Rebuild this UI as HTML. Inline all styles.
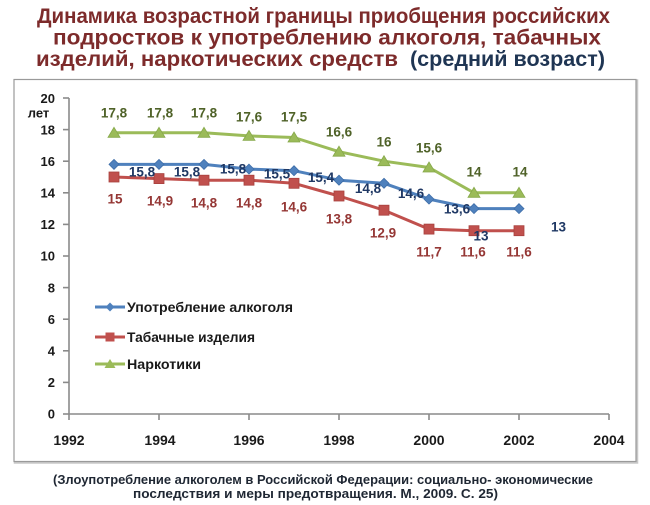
<!DOCTYPE html>
<html><head><meta charset="utf-8"><style>
html,body{margin:0;padding:0;background:#fff;}
svg{display:block;}
text{font-family:"Liberation Sans","DejaVu Sans",sans-serif;font-weight:bold;}
</style></head><body>
<svg width="650" height="505" viewBox="0 0 650 505" xmlns="http://www.w3.org/2000/svg">
<rect width="650" height="505" fill="#fff"/>
<!-- Title -->
<text x="37" y="23" font-size="21" fill="#7d2b2b" textLength="573" lengthAdjust="spacingAndGlyphs">Динамика  возрастной  границы  приобщения  российских</text>
<text x="53" y="44.5" font-size="21" fill="#7d2b2b" textLength="548" lengthAdjust="spacingAndGlyphs">подростков   к  употреблению  алкоголя,  табачных</text>
<text x="36" y="66" font-size="21" fill="#7d2b2b" textLength="362" lengthAdjust="spacingAndGlyphs">изделий,  наркотических  средств</text>
<text x="410" y="66" font-size="21" fill="#1f3553" textLength="195" lengthAdjust="spacingAndGlyphs">(средний  возраст)</text>

<!-- Frame -->
<rect x="15" y="80.5" width="622" height="382" fill="#fff" stroke="#c8c8c8" stroke-width="2.5"/>
<rect x="14" y="79.5" width="622" height="382" fill="#fff" stroke="#9a9a9a" stroke-width="1.2"/>

<!-- Axes -->
<g stroke="#8a8a8a" stroke-width="1.6" fill="none">
<line x1="69" y1="98" x2="69" y2="414"/>
<line x1="69" y1="414" x2="609" y2="414"/>
<line x1="63" y1="98" x2="69" y2="98"/>
<line x1="63" y1="129.6" x2="69" y2="129.6"/>
<line x1="63" y1="161.2" x2="69" y2="161.2"/>
<line x1="63" y1="192.8" x2="69" y2="192.8"/>
<line x1="63" y1="224.4" x2="69" y2="224.4"/>
<line x1="63" y1="256" x2="69" y2="256"/>
<line x1="63" y1="287.6" x2="69" y2="287.6"/>
<line x1="63" y1="319.2" x2="69" y2="319.2"/>
<line x1="63" y1="350.8" x2="69" y2="350.8"/>
<line x1="63" y1="382.4" x2="69" y2="382.4"/>
<line x1="63" y1="414" x2="69" y2="414"/>
<line x1="69" y1="414" x2="69" y2="420"/>
<line x1="159" y1="414" x2="159" y2="420"/>
<line x1="249" y1="414" x2="249" y2="420"/>
<line x1="339" y1="414" x2="339" y2="420"/>
<line x1="429" y1="414" x2="429" y2="420"/>
<line x1="519" y1="414" x2="519" y2="420"/>
<line x1="609" y1="414" x2="609" y2="420"/>
</g>

<!-- Y labels -->
<g font-size="13" fill="#1a1a1a" text-anchor="end">
<text x="55" y="103">20</text>
<text x="55" y="134.5">18</text>
<text x="55" y="166">16</text>
<text x="55" y="197.5">14</text>
<text x="55" y="229">12</text>
<text x="55" y="260.7">10</text>
<text x="55" y="292.3">8</text>
<text x="55" y="324">6</text>
<text x="55" y="355.5">4</text>
<text x="55" y="387">2</text>
<text x="55" y="418.7">0</text>
</g>
<text x="38.5" y="117.5" font-size="13" fill="#1a1a1a" text-anchor="middle">лет</text>

<!-- X labels -->
<g font-size="14" fill="#1a1a1a" text-anchor="middle">
<text x="69" y="445">1992</text>
<text x="160" y="445">1994</text>
<text x="249" y="445">1996</text>
<text x="339" y="445">1998</text>
<text x="429" y="445">2000</text>
<text x="519" y="445">2002</text>
<text x="609" y="445">2004</text>
</g>

<!-- Series lines -->
<polyline fill="none" stroke="#9bbb59" stroke-width="3" stroke-linejoin="round" points="114,132.8 159,132.8 204,132.8 249,135.9 294,137.5 339,151.7 384,161.2 429,167.5 474,192.8 519,192.8"/>
<polyline fill="none" stroke="#4f81bd" stroke-width="3" stroke-linejoin="round" points="114,164.4 159,164.4 204,164.4 249,169.1 294,170.7 339,180.2 384,183.3 429,199.1 474,208.6 519,208.6"/>
<polyline fill="none" stroke="#c0504d" stroke-width="3" stroke-linejoin="round" points="114,177 159,178.6 204,180.2 249,180.2 294,183.3 339,196 384,210.2 429,229.1 474,230.7 519,230.7"/>

<!-- Markers green triangles -->
<g fill="#9bbb59" stroke="#86a84a" stroke-width="0.8">
<polygon points="114,127.3 120,137.3 108,137.3"/>
<polygon points="159,127.3 165,137.3 153,137.3"/>
<polygon points="204,127.3 210,137.3 198,137.3"/>
<polygon points="249,130.4 255,140.4 243,140.4"/>
<polygon points="294,132 300,142 288,142"/>
<polygon points="339,146.2 345,156.2 333,156.2"/>
<polygon points="384,155.7 390,165.7 378,165.7"/>
<polygon points="429,162 435,172 423,172"/>
<polygon points="474,187.3 480,197.3 468,197.3"/>
<polygon points="519,187.3 525,197.3 513,197.3"/>
</g>
<!-- Markers blue diamonds -->
<g fill="#4f81bd" stroke="#3d6da8" stroke-width="0.8">
<polygon points="114,159.4 119,164.4 114,169.4 109,164.4"/>
<polygon points="159,159.4 164,164.4 159,169.4 154,164.4"/>
<polygon points="204,159.4 209,164.4 204,169.4 199,164.4"/>
<polygon points="249,164.1 254,169.1 249,174.1 244,169.1"/>
<polygon points="294,165.7 299,170.7 294,175.7 289,170.7"/>
<polygon points="339,175.2 344,180.2 339,185.2 334,180.2"/>
<polygon points="384,178.3 389,183.3 384,188.3 379,183.3"/>
<polygon points="429,194.1 434,199.1 429,204.1 424,199.1"/>
<polygon points="474,203.6 479,208.6 474,213.6 469,208.6"/>
<polygon points="519,203.6 524,208.6 519,213.6 514,208.6"/>
</g>
<!-- Markers red squares -->
<g fill="#c0504d" stroke="#a8403d" stroke-width="0.8">
<rect x="109" y="172" width="10" height="10"/>
<rect x="154" y="173.6" width="10" height="10"/>
<rect x="199" y="175.2" width="10" height="10"/>
<rect x="244" y="175.2" width="10" height="10"/>
<rect x="289" y="178.3" width="10" height="10"/>
<rect x="334" y="191" width="10" height="10"/>
<rect x="379" y="205.2" width="10" height="10"/>
<rect x="424" y="224.1" width="10" height="10"/>
<rect x="469" y="225.7" width="10" height="10"/>
<rect x="514" y="225.7" width="10" height="10"/>
</g>

<!-- Green labels -->
<g font-size="13.5" fill="#4f6228" text-anchor="middle">
<text x="114" y="117.5">17,8</text>
<text x="160" y="117.5">17,8</text>
<text x="204" y="117.5">17,8</text>
<text x="249" y="121.5">17,6</text>
<text x="294" y="121.5">17,5</text>
<text x="339" y="136.5">16,6</text>
<text x="384" y="146.5">16</text>
<text x="429" y="152.5">15,6</text>
<text x="474" y="176.5">14</text>
<text x="520" y="176.5">14</text>
</g>
<!-- Blue labels -->
<g font-size="13.5" fill="#1f3864" text-anchor="middle">
<text x="142" y="176.5">15,8</text>
<text x="187" y="176.5">15,8</text>
<text x="233" y="173.5">15,8</text>
<text x="277" y="178.5">15,5</text>
<text x="321" y="182">15,4</text>
<text x="368" y="193">14,8</text>
<text x="411" y="198">14,6</text>
<text x="457" y="213.5">13,6</text>
<text x="481" y="240.5">13</text>
<text x="558.5" y="231.5">13</text>
</g>
<!-- Red labels -->
<g font-size="13.5" fill="#953735" text-anchor="middle">
<text x="115" y="203.5">15</text>
<text x="160" y="205.5">14,9</text>
<text x="204" y="207.5">14,8</text>
<text x="249" y="207.5">14,8</text>
<text x="294" y="211.5">14,6</text>
<text x="339" y="223.5">13,8</text>
<text x="383" y="237.5">12,9</text>
<text x="429" y="256.5">11,7</text>
<text x="473" y="256.5">11,6</text>
<text x="519" y="256.5">11,6</text>
</g>

<!-- Legend -->
<line x1="95" y1="307" x2="125" y2="307" stroke="#4f81bd" stroke-width="3"/>
<polygon points="110,302.5 114.5,307 110,311.5 105.5,307" fill="#4f81bd"/>
<text x="127" y="312" font-size="14" fill="#1a1a1a" textLength="166" lengthAdjust="spacingAndGlyphs">Употребление алкоголя</text>
<line x1="95" y1="337" x2="125" y2="337" stroke="#c0504d" stroke-width="3"/>
<rect x="105.5" y="332.5" width="9" height="9" fill="#c0504d"/>
<text x="127" y="342" font-size="14" fill="#1a1a1a" textLength="128" lengthAdjust="spacingAndGlyphs">Табачные изделия</text>
<line x1="95" y1="364" x2="125" y2="364" stroke="#9bbb59" stroke-width="3"/>
<polygon points="110,359 115.5,368 104.5,368" fill="#9bbb59"/>
<text x="127" y="369" font-size="14" fill="#1a1a1a" textLength="74" lengthAdjust="spacingAndGlyphs">Наркотики</text>

<!-- Footer -->
<text x="53" y="484" font-size="13" fill="#1f2733" textLength="540" lengthAdjust="spacingAndGlyphs">(Злоупотребление алкоголем в Российской Федерации:  социально- экономические</text>
<text x="133" y="498" font-size="13" fill="#1f2733" textLength="365" lengthAdjust="spacingAndGlyphs">последствия  и меры предотвращения.  М., 2009. С. 25)</text>
</svg>
</body></html>
